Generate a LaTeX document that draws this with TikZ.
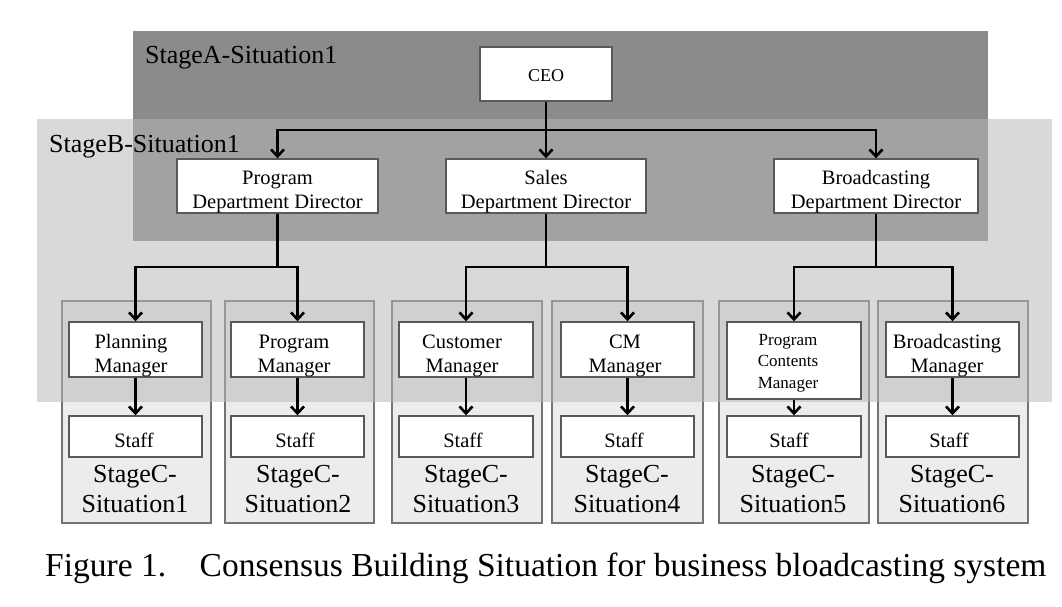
\documentclass[tikz,border=0pt]{standalone}
\usepackage{fontspec}
\setmainfont{Liberation Serif}
\usetikzlibrary{arrows.meta}
\definecolor{afill}{gray}{0.545}
\definecolor{bfill}{gray}{0.72}
\definecolor{cfill}{gray}{0.925}
\definecolor{cline}{gray}{0.45}
\definecolor{bline}{gray}{0.35}
\tikzset{
  wbox/.style={draw=bline, line width=1.4pt, fill=white, inner sep=0pt},
  arr/.style={line width=2.6pt, -{Straight Barb[length=7pt,width=13pt]}},
  ln/.style={line width=2.6pt},
  lbl/.style={font=\fontsize{20.5}{24}\selectfont, align=center, inner sep=0pt, anchor=base},
  slbl/.style={font=\fontsize{17}{21.5}\selectfont, align=center, inner sep=0pt, anchor=base},
  stlbl/.style={font=\fontsize{26}{30}\selectfont, align=center, inner sep=0pt, anchor=base},
  cbox/.style={draw=cline, line width=1.4pt, fill=cfill},
}
\begin{document}
\begin{tikzpicture}[x=1pt,y=-1pt]
\useasboundingbox (0,0) rectangle (1062,606);
% stage A
\fill[afill] (133,31) rectangle (988,241);
% stage C boxes
\draw[cbox] (62,301) rectangle (211,523);
\draw[cbox] (225,301) rectangle (374,523);
\draw[cbox] (392,301) rectangle (542,523);
\draw[cbox] (552,301) rectangle (703,523);
\draw[cbox] (719,301) rectangle (869,523);
\draw[cbox] (878,301) rectangle (1028,523);
% stage B (translucent)
\fill[bfill, fill opacity=0.53] (37,119) rectangle (1052,402);
% stage labels
\node[stlbl, anchor=base west] (la) at (145,63) {StageA-Situation1};
\node[stlbl, anchor=base west] (lb) at (49,152) {StageB-Situation1};
% boxes
\node[wbox, minimum width=132pt, minimum height=54pt] (ceo) at (546,74) {};
\node[wbox, minimum width=201pt, minimum height=54pt] (pdd) at (277.5,186) {};
\node[wbox, minimum width=200pt, minimum height=54pt] (sdd) at (546,186) {};
\node[wbox, minimum width=204pt, minimum height=54pt] (bdd) at (876,186) {};
\node[wbox, minimum width=133pt, minimum height=55pt] (m1) at (135.5,349.5) {};
\node[wbox, minimum width=133pt, minimum height=55pt] (m2) at (297.5,349.5) {};
\node[wbox, minimum width=134pt, minimum height=55pt] (m3) at (466,349.5) {};
\node[wbox, minimum width=133pt, minimum height=55pt] (m4) at (627.5,349.5) {};
\node[wbox, minimum width=134pt, minimum height=77pt] (m5) at (794,360.5) {};
\node[wbox, minimum width=133pt, minimum height=55pt] (m6) at (952.5,349.5) {};
\node[wbox, minimum width=133pt, minimum height=41pt] (s1) at (135.5,436.5) {};
\node[wbox, minimum width=133pt, minimum height=41pt] (s2) at (297.5,436.5) {};
\node[wbox, minimum width=134pt, minimum height=41pt] (s3) at (466,436.5) {};
\node[wbox, minimum width=133pt, minimum height=41pt] (s4) at (627.5,436.5) {};
\node[wbox, minimum width=134pt, minimum height=41pt] (s5) at (794,436.5) {};
\node[wbox, minimum width=133pt, minimum height=41pt] (s6) at (952.5,436.5) {};
% texts (anchor = baseline of last line)
\node[lbl, font=\fontsize{18}{22}\selectfont] (tceo) at (546,81) {CEO};
\node[lbl] (tpdd) at (277.5,208) {Program\\Department Director};
\node[lbl] (tsdd) at (546,208) {Sales\\Department Director};
\node[lbl] (tbdd) at (876,208) {Broadcasting\\Department Director};
\node[lbl] (tm1) at (131,372) {Planning\\Manager};
\node[lbl] (tm2) at (294,372) {Program\\Manager};
\node[lbl] (tm3) at (462,372) {Customer\\Manager};
\node[lbl] (tm4) at (625,372) {CM\\Manager};
\node[slbl] (tm5) at (788,388) {Program\\Contents\\Manager};
\node[lbl] (tm6) at (947,372) {Broadcasting\\Manager};
\node[lbl] (ts1) at (134,447) {Staff};
\node[lbl] (ts2) at (295,447) {Staff};
\node[lbl] (ts3) at (463,447) {Staff};
\node[lbl] (ts4) at (624,447) {Staff};
\node[lbl] (ts5) at (789,447) {Staff};
\node[lbl] (ts6) at (949,447) {Staff};
\node[stlbl] (c1) at (135,512) {StageC-\\Situation1};
\node[stlbl] (c2) at (298,512) {StageC-\\Situation2};
\node[stlbl] (c3) at (466,512) {StageC-\\Situation3};
\node[stlbl] (c4) at (627,512) {StageC-\\Situation4};
\node[stlbl] (c5) at (793,512) {StageC-\\Situation5};
\node[stlbl] (c6) at (952,512) {StageC-\\Situation6};
% connectors
\coordinate (j0) at (546,130);
\coordinate (j1) at (277.5,267);
\coordinate (j2) at (546,267);
\coordinate (j3) at (876,267);
\draw[ln] (ceo.south) -- (j0);
\draw[arr] (j0) -| (pdd.north);
\draw[arr] (j0) -- (sdd.north);
\draw[arr] (j0) -| (bdd.north);
\draw[ln] (pdd.south) -- (j1);
\draw[arr] (j1) -| (m1.north);
\draw[arr] (j1) -| (m2.north);
\draw[ln] (sdd.south) -- (j2);
\draw[arr] (j2) -| (m3.north);
\draw[arr] (j2) -| (m4.north);
\draw[ln] (bdd.south) -- (j3);
\draw[arr] (j3) -| (m5.north);
\draw[arr] (j3) -| (m6.north);
\foreach \i in {1,...,6} {\draw[arr] (m\i.south) -- (s\i.north);}
% caption
\node[anchor=base west, inner sep=0pt, font=\fontsize{33.5}{38}\selectfont] (cap) at (45,576) {Figure 1.\hspace{1em}Consensus Building Situation for business bloadcasting system};
\end{tikzpicture}
\end{document}
